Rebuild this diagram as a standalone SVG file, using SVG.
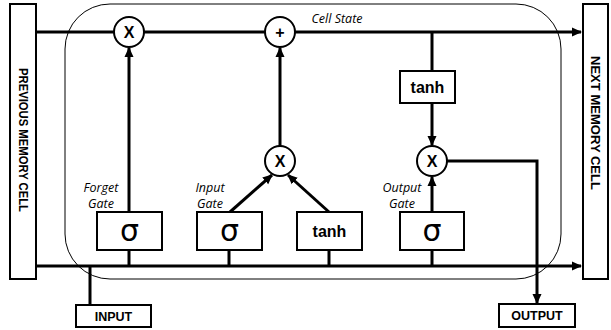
<svg xmlns="http://www.w3.org/2000/svg" width="611" height="330" viewBox="0 0 611 330">
<style>
.box{fill:#fff;stroke:#000;stroke-width:2}
.op{fill:#fff;stroke:#000;stroke-width:2}
.ln{fill:none;stroke:#000;stroke-width:3}
.bt{font-family:"Liberation Sans",Arial,sans-serif;font-weight:bold;fill:#000;text-anchor:middle}
.it{font-family:"Open Sans","Liberation Sans",sans-serif;font-style:italic;font-size:12.5px;fill:#000;text-anchor:middle}
.sig{font-family:"DejaVu Sans","Liberation Sans",sans-serif;font-size:30px;fill:#000;text-anchor:middle}
</style>
<defs>
<marker id="ah" markerUnits="userSpaceOnUse" markerWidth="10" markerHeight="10" refX="9" refY="5" orient="auto">
<path d="M0,0.5 L10,5 L0,9.5 Z" fill="#000"/>
</marker>
</defs>
<rect id="cell-boundary" x="65" y="4" width="496" height="275" rx="45" ry="45" fill="none" stroke="#000" stroke-width="1"/>
<g id="connectors">
<path class="ln" d="M36 32 H581" marker-end="url(#ah)"/>
<path class="ln" d="M36 266 H581" marker-end="url(#ah)"/>
<path class="ln" d="M90 305 V266"/>
<path class="ln" d="M129 250 V266 M229 250 V266 M329 250 V266 M432 250 V266"/>
<path class="ln" d="M129 212 V48" marker-end="url(#ah)"/>
<path class="ln" d="M280 146 V48" marker-end="url(#ah)"/>
<path class="ln" d="M230 212 L272 175" marker-end="url(#ah)"/>
<path class="ln" d="M329 212 L288 175" marker-end="url(#ah)"/>
<path class="ln" d="M432 32 V71"/>
<path class="ln" d="M432 103 V145" marker-end="url(#ah)"/>
<path class="ln" d="M432 211 V177" marker-end="url(#ah)"/>
<path class="ln" d="M447 161 H537 V303" marker-end="url(#ah)"/>
</g>
<g id="prev-memory">
<rect class="box" x="10" y="4" width="26" height="275"/>
<text class="bt" font-size="12" transform="translate(19,140) rotate(90)" textLength="144" lengthAdjust="spacingAndGlyphs">PREVIOUS MEMORY CELL</text>
</g>
<g id="next-memory">
<rect class="box" x="583" y="4" width="25" height="275"/>
<text class="bt" font-size="12" transform="translate(591,123) rotate(90)" textLength="134" lengthAdjust="spacingAndGlyphs">NEXT MEMORY CELL</text>
</g>
<g id="forget-mult">
<circle class="op" cx="129" cy="32" r="15"/>
<text class="bt" x="129" y="38" font-size="16">X</text>
</g>
<g id="add">
<circle class="op" cx="280" cy="32" r="15"/>
<text class="bt" x="280" y="38" font-size="16">+</text>
</g>
<text class="it" x="337" y="23" font-size="13">Cell State</text>
<g id="input-mult">
<circle class="op" cx="280" cy="161" r="15"/>
<text class="bt" x="280" y="167" font-size="16">X</text>
</g>
<g id="output-mult">
<circle class="op" cx="432" cy="161" r="15"/>
<text class="bt" x="432" y="167" font-size="16">X</text>
</g>
<g id="tanh-out">
<rect class="box" x="400" y="71" width="55" height="32"/>
<text class="bt" x="427.5" y="93" font-size="16">tanh</text>
</g>
<g id="forget-gate">
<rect class="box" x="97" y="212" width="65" height="38"/>
<text class="sig" x="129.5" y="241">σ</text>
<text class="it" x="101" y="192">Forget</text>
<text class="it" x="101" y="208">Gate</text>
</g>
<g id="input-gate">
<rect class="box" x="197" y="212" width="65" height="38"/>
<text class="sig" x="229.5" y="241">σ</text>
<text class="it" x="210" y="192">Input</text>
<text class="it" x="210" y="208">Gate</text>
</g>
<g id="tanh-in">
<rect class="box" x="297" y="212" width="65" height="38"/>
<text class="bt" x="329.5" y="237" font-size="16">tanh</text>
</g>
<g id="output-gate">
<rect class="box" x="400" y="212" width="64" height="38"/>
<text class="sig" x="432" y="241">σ</text>
<text class="it" x="402" y="192">Output</text>
<text class="it" x="402" y="208">Gate</text>
</g>
<g id="input">
<rect class="box" x="76" y="305" width="75" height="22"/>
<text class="bt" x="113.5" y="321" font-size="12.5">INPUT</text>
</g>
<g id="output">
<rect class="box" x="499" y="304" width="76" height="23"/>
<text class="bt" x="537" y="320" font-size="12.5">OUTPUT</text>
</g>
</svg>
